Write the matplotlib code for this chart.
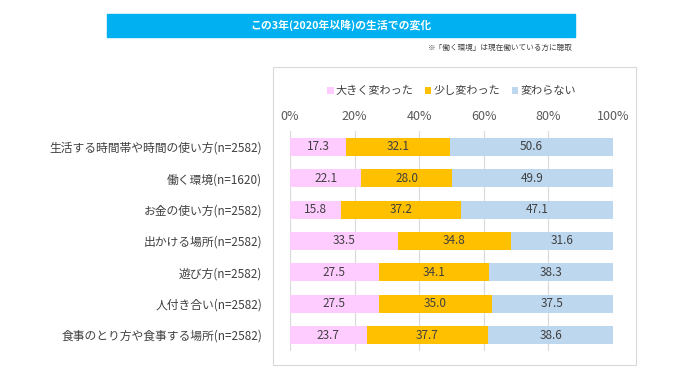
import matplotlib.pyplot as plt
from matplotlib.patches import Rectangle

plt.rcParams['font.family'] = ['Noto Sans CJK JP', 'DejaVu Sans']

# data
categories = ['生活する時間帯や時間の使い方(n=2582)', '働く環境(n=1620)', 'お金の使い方(n=2582)',
              '出かける場所(n=2582)', '遊び方(n=2582)', '人付き合い(n=2582)',
              '食事のとり方や食事する場所(n=2582)']
big_change = [17.3, 22.1, 15.8, 33.5, 27.5, 27.5, 23.7]
small_change = [32.1, 28.0, 37.2, 34.8, 34.1, 35.0, 37.7]
no_change = [50.6, 49.9, 47.1, 31.6, 38.3, 37.5, 38.6]
series_names = ['大きく変わった', '少し変わった', '変わらない']
colors = ['#FFCCFF', '#FFC000', '#BDD7EE']
text_color = '#404040'

fig = plt.figure(figsize=(6.96, 3.80), dpi=100)
W, H = 696, 380

# title bar
fig.patches.append(Rectangle((107 / W, 1 - 37 / H), (575 - 107) / W, 23 / H,
                             transform=fig.transFigure, color='#00B0F0', zorder=-2))
fig.text(341 / W, 1 - 25.5 / H, 'この3年(2020年以降)の生活での変化', color='white',
         fontsize=7.8, fontweight='bold', ha='center', va='center')
fig.text(573 / W, 1 - 48 / H, '※「働く環境」は現在働いている方に聴取', color='#404040',
         fontsize=5.5, ha='right', va='center')

# chart frame
fig.patches.append(Rectangle((273 / W, 1 - 365 / H), (636 - 273) / W, (365 - 67) / H,
                             transform=fig.transFigure, facecolor='white',
                             edgecolor='#D9D9D9', linewidth=0.8, zorder=-2))

ax = fig.add_axes([290 / W, 1 - 350.7 / H, (613 - 290) / W, 219.4 / H])
ax.set_zorder(1)
ax.set_facecolor('none')

y = list(range(len(categories)))
left = [0] * len(categories)
for vals, name, c in zip([big_change, small_change, no_change], series_names, colors):
    bars = ax.barh(y, vals, left=left, height=0.58, color=c, label=name, zorder=2)
    for b, v, l in zip(bars, vals, left):
        ax.text(l + v / 2, b.get_y() + b.get_height() / 2, f'{v:.1f}', ha='center',
                va='center', fontsize=8.5, color=text_color, zorder=3)
    left = [a + b for a, b in zip(left, vals)]

ax.set_xlim(0, 100)
ax.set_ylim(len(categories) - 0.5, -0.5)
ax.set_xticks([0, 20, 40, 60, 80, 100])
ax.set_xticklabels(['0%', '20%', '40%', '60%', '80%', '100%'], fontsize=9, color='#595959')
ax.xaxis.tick_top()
ax.tick_params(axis='x', length=0, pad=6)
ax.set_yticks(y)
ax.set_yticklabels(categories, fontsize=8.5, color=text_color)
ax.tick_params(axis='y', length=0, pad=20)
ax.grid(axis='x', color='#D9D9D9', linewidth=0.8, zorder=0)
for s in ax.spines.values():
    s.set_visible(False)

ax.legend(loc='center', bbox_to_anchor=(0.5, 1 + (131.3 - 91) / 219.4), ncol=3,
          frameon=False, fontsize=8, handlelength=0.6, handleheight=0.6,
          handletextpad=0.2, columnspacing=1.0, labelcolor=text_color)

fig.savefig('out.png', dpi=100)
